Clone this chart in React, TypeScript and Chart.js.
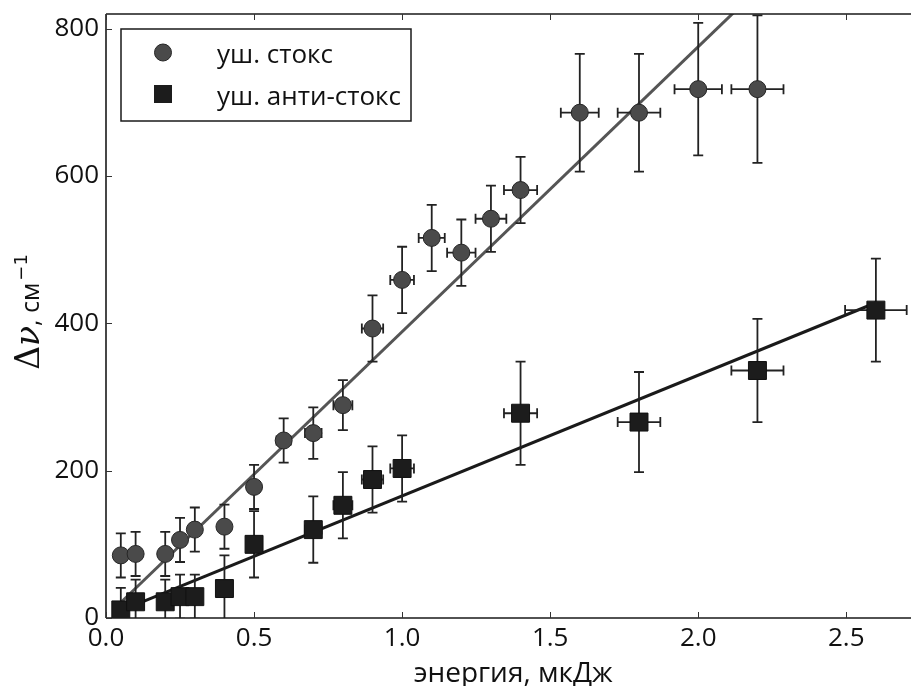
import React, { useEffect, useRef } from "react";
import { Chart, registerables } from "chart.js";
Chart.register(...registerables);

// ---- data ----
const stokesX = [0.05, 0.1, 0.2, 0.25, 0.3, 0.4, 0.5, 0.6, 0.7, 0.8, 0.9, 1.0, 1.1, 1.2, 1.3, 1.4, 1.6, 1.8, 2.0, 2.2];
const stokesY = [85, 87, 87, 106, 120, 124, 178, 241, 251, 289, 393, 459, 516, 496, 542, 581, 686, 686, 718, 718];
const stokesYErr = [30, 30, 30, 30, 30, 30, 30, 30, 35, 34, 45, 45, 45, 45, 45, 45, 80, 80, 90, 100];
const stokesXErr = [0.002, 0.004, 0.008, 0.01, 0.012, 0.016, 0.02, 0.024, 0.028, 0.032, 0.036, 0.04, 0.044, 0.048, 0.052, 0.056, 0.064, 0.072, 0.08, 0.088];

const antiX = [0.05, 0.1, 0.2, 0.25, 0.3, 0.4, 0.5, 0.7, 0.8, 0.9, 1.0, 1.4, 1.8, 2.2, 2.6];
const antiY = [11, 22, 22, 29, 29, 40, 100, 120, 153, 188, 203, 278, 266, 336, 418];
const antiYErr = [30, 30, 30, 30, 30, 45, 45, 45, 45, 45, 45, 70, 68, 70, 70];
const antiXErr = [0.002, 0.004, 0.008, 0.01, 0.012, 0.016, 0.02, 0.028, 0.032, 0.036, 0.04, 0.056, 0.072, 0.088, 0.104];

const stokesFitX = [0.05, 2.2];
const stokesFitY = [21, 853];
const antiFitX = [0.05, 2.6];
const antiFitY = [10, 428];

const xTicks = [0, 0.5, 1.0, 1.5, 2.0, 2.5];
const yTicks = [0, 200, 400, 600, 800];

const seriesLabels = ["уш. стокс", "уш. анти-стокс"];
const xTitle = "энергия, мкДж";

const FONT = "'Open Sans', sans-serif";
const STOKES_FILL = "#4a4a4a";
const ANTI_FILL = "#1c1c1c";

const pts = (xs: number[], ys: number[]) => xs.map((x, i) => ({ x, y: ys[i] }));

export default function App() {
  const ref = useRef<HTMLCanvasElement>(null);
  useEffect(() => {
    document.body.style.margin = "0";
    document.body.style.overflow = "hidden";
    const canvas = ref.current!;

    const plugin = {
      id: "custom",
      beforeDatasetDraw(chart: any, args: any) {
        const ds: any = chart.data.datasets[args.index];
        if (!ds.errY) return;
        const xs = chart.scales.x, ys = chart.scales.y;
        const ctx = chart.ctx;
        const a = chart.chartArea;
        ctx.save();
        ctx.beginPath();
        ctx.rect(a.left, a.top, a.right - a.left, a.bottom - a.top);
        ctx.clip();
        ctx.strokeStyle = "#222";
        ctx.lineWidth = 1.8;
        const cap = 5;
        ds.data.forEach((p: any, i: number) => {
          const px = xs.getPixelForValue(p.x);
          const py = ys.getPixelForValue(p.y);
          const y1 = ys.getPixelForValue(p.y - ds.errY[i]);
          const y2 = ys.getPixelForValue(p.y + ds.errY[i]);
          const x1 = xs.getPixelForValue(p.x - ds.errX[i]);
          const x2 = xs.getPixelForValue(p.x + ds.errX[i]);
          ctx.beginPath();
          ctx.moveTo(px, y1); ctx.lineTo(px, y2);
          ctx.moveTo(px - cap, y1); ctx.lineTo(px + cap, y1);
          ctx.moveTo(px - cap, y2); ctx.lineTo(px + cap, y2);
          ctx.moveTo(x1, py); ctx.lineTo(x2, py);
          ctx.moveTo(x1, py - cap); ctx.lineTo(x1, py + cap);
          ctx.moveTo(x2, py - cap); ctx.lineTo(x2, py + cap);
          ctx.stroke();
        });
        ctx.restore();
      },
      afterDraw(chart: any) {
        const ctx = chart.ctx;
        const a = chart.chartArea;
        const xs = chart.scales.x, ys = chart.scales.y;
        ctx.save();
        // frame
        ctx.strokeStyle = "#1a1a1a";
        ctx.lineWidth = 1.6;
        ctx.beginPath();
        ctx.moveTo(a.left, a.top); ctx.lineTo(a.right, a.top);
        ctx.moveTo(a.left, a.top); ctx.lineTo(a.left, a.bottom);
        ctx.moveTo(a.left, a.bottom); ctx.lineTo(a.right, a.bottom);
        ctx.moveTo(a.right, a.top); ctx.lineTo(a.right, a.bottom);
        ctx.stroke();
        // inward ticks
        ctx.lineWidth = 1;
        ctx.strokeStyle = "#333";
        ctx.beginPath();
        xTicks.forEach((v) => {
          const px = Math.round(xs.getPixelForValue(v)) + 0.5;
          ctx.moveTo(px, a.bottom); ctx.lineTo(px, a.bottom - 6);
          ctx.moveTo(px, a.top); ctx.lineTo(px, a.top + 6);
        });
        yTicks.forEach((v) => {
          const py = Math.round(ys.getPixelForValue(v)) + 0.5;
          ctx.moveTo(a.left, py); ctx.lineTo(a.left + 6, py);
          ctx.moveTo(a.right, py); ctx.lineTo(a.right - 6, py);
        });
        ctx.stroke();

        // legend
        const lx = a.left + 15, ly = a.top + 15, lw = 290, lh = 92;
        ctx.fillStyle = "#fff";
        ctx.fillRect(lx, ly, lw, lh);
        ctx.strokeStyle = "#1a1a1a";
        ctx.lineWidth = 1.5;
        ctx.strokeRect(lx, ly, lw, lh);
        const mx = lx + 42;
        const my1 = ly + 23.5, my2 = ly + 65;
        ctx.beginPath();
        ctx.arc(mx, my1, 8.5, 0, Math.PI * 2);
        ctx.fillStyle = STOKES_FILL;
        ctx.fill();
        ctx.lineWidth = 1;
        ctx.strokeStyle = "#262626";
        ctx.stroke();
        ctx.fillStyle = ANTI_FILL;
        ctx.fillRect(mx - 9, my2 - 9, 18, 18);
        ctx.fillStyle = "#111";
        ctx.font = `26px ${FONT}`;
        ctx.textAlign = "left";
        ctx.textBaseline = "alphabetic";
        ctx.fillText(seriesLabels[0], lx + 96, my1 + 10.5);
        ctx.fillText(seriesLabels[1], lx + 96, my2 + 10.5);

        // x title
        ctx.font = `28px ${FONT}`;
        ctx.textAlign = "center";
        ctx.fillText(xTitle, (a.left + a.right) / 2, 682);

        // y title (rotated): Δν, см^-1
        ctx.save();
        const cy = (a.top + a.bottom) / 2 - 4;
        ctx.translate(38.5, cy);
        ctx.rotate(-Math.PI / 2);
        ctx.textAlign = "left";
        const parts = [
          { t: "Δ", f: "33px 'DejaVu Serif', serif", dy: 0, gap: 0 },
          { t: "ν", f: "italic 33px 'DejaVu Serif', serif", dy: 0, gap: 0 },
          { t: ", см", f: `25px ${FONT}`, dy: 0, gap: 2 },
          { t: "−1", f: "18px 'DejaVu Sans', sans-serif", dy: -12, gap: 0 },
        ];
        let total = 0;
        const widths = parts.map((p) => {
          ctx.font = p.f;
          const w = ctx.measureText(p.t).width + p.gap;
          total += w;
          return w;
        });
        let x = -total / 2;
        parts.forEach((p, i) => {
          ctx.font = p.f;
          ctx.fillText(p.t, x, p.dy);
          x += widths[i];
        });
        ctx.restore();
        ctx.restore();
      },
    };

    const chart = new Chart(canvas, {
      type: "scatter",
      data: {
        datasets: [
          { label: "fit stokes", data: pts(stokesFitX, stokesFitY), showLine: true, borderColor: "#555555", borderWidth: 3, pointRadius: 0, order: 4 },
          { label: "fit anti", data: pts(antiFitX, antiFitY), showLine: true, borderColor: "#1a1a1a", borderWidth: 3, pointRadius: 0, order: 3 },
          { label: seriesLabels[0], data: pts(stokesX, stokesY), pointStyle: "circle", pointRadius: 8.5, backgroundColor: STOKES_FILL, borderColor: "#262626", borderWidth: 1, order: 2, errX: stokesXErr, errY: stokesYErr } as any,
          { label: seriesLabels[1], data: pts(antiX, antiY), pointStyle: "rect", pointRadius: 12.7, backgroundColor: ANTI_FILL, borderColor: "#111", borderWidth: 1, order: 1, errX: antiXErr, errY: antiYErr } as any,
        ],
      },
      options: {
        responsive: false,
        animation: false,
        events: [],
        layout: { padding: { top: 14, left: 0, right: 0, bottom: 0 } },
        plugins: { legend: { display: false }, tooltip: { enabled: false } },
        scales: {
          x: {
            type: "linear", min: 0, max: 2.75,
            afterBuildTicks: (s: any) => { s.ticks = xTicks.map((v) => ({ value: v })); },
            afterFit: (s: any) => { s.height = 68; s.paddingLeft = 0; s.paddingRight = 0; },
            grid: { display: false, drawTicks: false },
            border: { display: false },
            ticks: { font: { family: FONT, size: 26, lineHeight: 1 }, color: "#111", padding: 8, maxRotation: 0, callback: (v: any) => Number(v).toFixed(1) },
          },
          y: {
            type: "linear", min: 0, max: 820,
            afterBuildTicks: (s: any) => { s.ticks = yTicks.map((v) => ({ value: v })); },
            afterFit: (s: any) => { s.width = 106; s.paddingTop = 0; s.paddingBottom = 0; },
            grid: { display: false, drawTicks: false },
            border: { display: false },
            ticks: { font: { family: FONT, size: 26, lineHeight: 1 }, color: "#111", padding: 7, callback: (v: any) => String(v) },
          },
        },
      },
      plugins: [plugin],
    } as any);
    return () => chart.destroy();
  }, []);
  return (
    <div style={{ width: 911, height: 686, overflow: "hidden", background: "#fff" }}>
      <canvas ref={ref} width={934} height={686} style={{ display: "block" }} />
    </div>
  );
}
